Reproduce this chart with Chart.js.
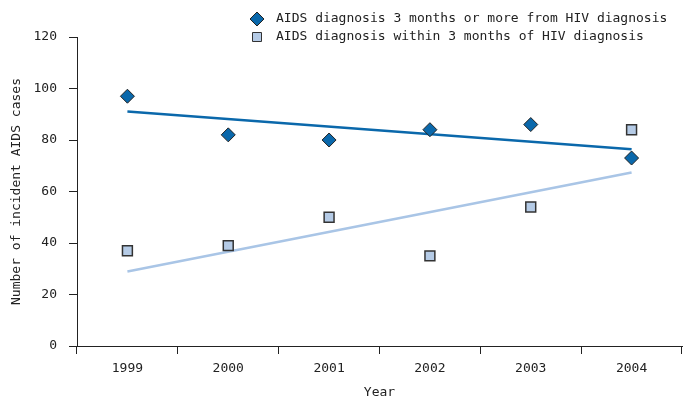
<!DOCTYPE html>
<html>
<head>
<meta charset="utf-8">
<script src="https://cdn.jsdelivr.net/npm/chart.js@4.4.1/dist/chart.umd.min.js"></script>
<style>
  body { margin: 0; background: #fff; }
  #wrap { width: 683px; height: 403px; position: relative; }
</style>
</head>
<body>
<div id="wrap"><canvas id="aidschart"></canvas></div>
<script>
const years = ["1999", "2000", "2001", "2002", "2003", "2004"];
const lateDiagnosis = [97, 82, 80, 84, 86, 73];
const earlyDiagnosis = [37, 39, 50, 35, 54, 84];
// trend line ends (1999 and 2004)
const lateTrend = [91.1, null, null, null, null, 76.4];
const earlyTrend = [28.9, null, null, null, null, 67.4];
const lateLabel = "AIDS diagnosis 3 months or more from HIV diagnosis";
const earlyLabel = "AIDS diagnosis within 3 months of HIV diagnosis";

const fontFamily = "'DejaVu Sans Mono', 'Liberation Mono', monospace";
const darkBlue = "#0a68ab";
const lightBlue = "#b5cbe6";
const lightLine = "#a9c5e6";

// legend drawn by hand so both rows line up on the left
const legendPlugin = {
  id: "sideLegend",
  afterDraw(chart) {
    const ctx = chart.ctx;
    const rows = [
      { ds: chart.data.datasets[0], y: 19 },
      { ds: chart.data.datasets[1], y: 37 },
    ];
    ctx.save();
    rows.forEach((row) => {
      const x = 257;
      ctx.fillStyle = row.ds.backgroundColor;
      ctx.strokeStyle = row.ds.borderColor;
      ctx.lineWidth = 1;
      ctx.beginPath();
      if (row.ds.pointStyle === "rectRot") {
        ctx.moveTo(x, row.y - 7);
        ctx.lineTo(x + 7, row.y);
        ctx.lineTo(x, row.y + 7);
        ctx.lineTo(x - 7, row.y);
        ctx.closePath();
      } else {
        ctx.rect(x - 4.5, row.y - 4.5, 9, 9);
      }
      ctx.fill();
      ctx.stroke();
      ctx.fillStyle = "#222";
      ctx.font = "13px " + fontFamily;
      ctx.textBaseline = "middle";
      ctx.textAlign = "left";
      ctx.fillText(row.ds.label, 276, row.y);
    });
    ctx.restore();
  },
};

new Chart(document.getElementById("aidschart"), {
  type: "line",
  data: {
    labels: years,
    datasets: [
      {
        label: lateLabel,
        data: lateDiagnosis,
        showLine: false,
        pointStyle: "rectRot",
        pointRadius: 7,
        pointHoverRadius: 7,
        backgroundColor: darkBlue,
        borderColor: "#222",
        borderWidth: 1,
      },
      {
        label: earlyLabel,
        data: earlyDiagnosis,
        showLine: false,
        pointStyle: "rect",
        pointRadius: 7,
        pointHoverRadius: 7,
        backgroundColor: lightBlue,
        borderColor: "#333",
        borderWidth: 1.5,
      },
      {
        label: "late trend",
        data: lateTrend,
        spanGaps: true,
        pointRadius: 0,
        borderColor: darkBlue,
        borderWidth: 2.5,
      },
      {
        label: "early trend",
        data: earlyTrend,
        spanGaps: true,
        pointRadius: 0,
        borderColor: lightLine,
        borderWidth: 2.5,
      },
    ],
  },
  options: {
    responsive: true,
    maintainAspectRatio: false,
    animation: false,
    layout: {
      autoPadding: false,
      padding: { top: 37, right: 1, left: 0, bottom: 0 },
    },
    plugins: {
      legend: { display: false },
      tooltip: { enabled: false },
    },
    scales: {
      x: {
        offset: true,
        afterFit(scale) {
          scale.height = 57;
        },
        grid: {
          offset: true,
          drawOnChartArea: false,
          drawTicks: true,
          tickLength: 8,
          color: "#222",
        },
        border: { color: "#222", width: 1 },
        ticks: {
          padding: 7,
          color: "#222",
          font: { family: fontFamily, size: 13 },
        },
        title: {
          display: true,
          text: "Year",
          color: "#222",
          font: { family: fontFamily, size: 13 },
          padding: { top: 0, bottom: 3 },
        },
      },
      y: {
        min: 0,
        max: 120,
        afterFit(scale) {
          scale.width = 77;
        },
        grid: {
          drawOnChartArea: false,
          drawTicks: true,
          tickLength: 8,
          color: "#222",
        },
        border: { color: "#222", width: 1 },
        ticks: {
          stepSize: 20,
          padding: 12,
          color: "#222",
          font: { family: fontFamily, size: 13 },
        },
        title: {
          display: true,
          text: "Number of incident AIDS cases",
          color: "#222",
          font: { family: fontFamily, size: 13 },
          padding: { top: 9, bottom: 0 },
        },
      },
    },
  },
  plugins: [legendPlugin],
});
</script>
</body>
</html>
